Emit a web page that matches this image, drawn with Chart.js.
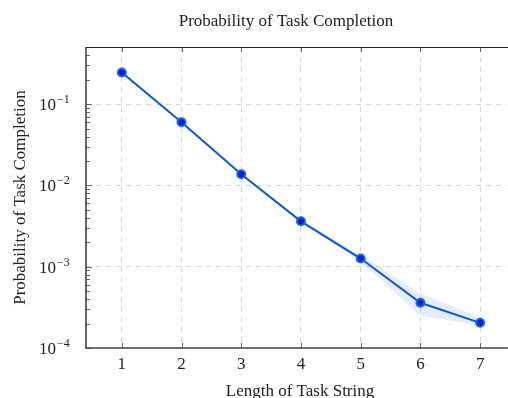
<!DOCTYPE html>
<html>
<head>
<meta charset="utf-8">
<script src="https://cdn.jsdelivr.net/npm/chart.js@4/dist/chart.umd.min.js"></script>
<style>
  html, body { margin: 0; padding: 0; background: #fff; overflow: hidden; }
  #wrap { width: 508px; height: 398px; overflow: hidden; }
</style>
</head>
<body>
<div id="wrap"><canvas id="grafico" width="513" height="398"></canvas></div>
<script>
// dados
const taskLength = [1, 2, 3, 4, 5, 6, 7];
const probability = [0.245, 0.060, 0.0137, 0.00362, 0.00126, 0.00036, 0.000204];
const probUpper = [0.252, 0.0618, 0.0142, 0.00375, 0.00138, 0.00047, 0.000237];
const probLower = [0.238, 0.0583, 0.0133, 0.00350, 0.00115, 0.00025, 0.000189];
const decadeTicks = [1e-4, 1e-3, 1e-2, 1e-1];
const decadeLabels = ['−4', '−3', '−2', '−1'];

const serif = '"Liberation Serif", "Times New Roman", serif';

function toPoints(ys) {
    return taskLength.map((x, i) => ({ x: x, y: ys[i] }));
}

// moldura, ticks menores, rótulos do eixo y e títulos
const decorPlugin = {
    id: 'decor',
    afterDraw(chart) {
        const ctx = chart.ctx;
        const a = chart.chartArea;
        const xs = chart.scales.x;
        const ys = chart.scales.y;
        ctx.save();

        // ticks menores no eixo y
        ctx.strokeStyle = '#666';
        ctx.lineWidth = 1;
        for (let d = -4; d < 0; d++) {
            for (let m = 1; m <= 9; m++) {
                const v = m * Math.pow(10, d);
                if (v > ys.max) continue;
                const py = Math.round(ys.getPixelForValue(v)) + 0.5;
                const len = m === 1 ? 6 : 4;
                ctx.beginPath();
                ctx.moveTo(a.left, py); ctx.lineTo(a.left + len, py);
                ctx.stroke();
            }
        }
        // ticks no eixo x (baixo e cima)
        taskLength.forEach(t => {
            const px = Math.round(xs.getPixelForValue(t)) + 0.5;
            ctx.beginPath();
            ctx.moveTo(px, a.bottom); ctx.lineTo(px, a.bottom - 5);
            ctx.moveTo(px, a.top); ctx.lineTo(px, a.top + 5);
            ctx.stroke();
        });

        // moldura
        ctx.strokeStyle = '#222';
        ctx.lineWidth = 1;
        ctx.beginPath();
        ctx.moveTo(a.left, a.top + 0.5); ctx.lineTo(a.right + 2, a.top + 0.5);
        ctx.stroke();
        ctx.strokeStyle = '#444';
        ctx.lineWidth = 1.6;
        ctx.beginPath();
        ctx.moveTo(a.left, a.top); ctx.lineTo(a.left, a.bottom); ctx.lineTo(a.right + 2, a.bottom);
        ctx.stroke();

        // rótulos do eixo y: 10 com expoente
        ctx.fillStyle = '#222';
        ctx.textBaseline = 'alphabetic';
        decadeTicks.forEach((v, i) => {
            const py = ys.getPixelForValue(v);
            ctx.font = '17px ' + serif;
            ctx.textAlign = 'left';
            ctx.fillText('10', 39, py + 6);
            ctx.font = '12px ' + serif;
            ctx.fillText(decadeLabels[i], 57, py - 1);
        });

        // título
        ctx.font = '17px ' + serif;
        ctx.textAlign = 'center';
        ctx.fillText('Probability of Task Completion', 286, 26);
        // título do eixo x
        ctx.fillText('Length of Task String', 300, 396);
        // título do eixo y
        ctx.translate(25, (a.top + a.bottom) / 2);
        ctx.rotate(-Math.PI / 2);
        ctx.fillText('Probability of Task Completion', 0, 0);
        ctx.restore();
    }
};

const ctxGrafico = document.getElementById('grafico').getContext('2d');
const grafico = new Chart(ctxGrafico, {
    type: 'line',
    data: {
        datasets: [{
            label: 'upper',
            data: toPoints(probUpper),
            borderWidth: 0,
            pointRadius: 0,
            backgroundColor: 'rgba(40, 110, 220, 0.12)',
            fill: '+1'
        }, {
            label: 'lower',
            data: toPoints(probLower),
            borderWidth: 0,
            pointRadius: 0,
            fill: false
        }, {
            label: 'Probability',
            data: toPoints(probability),
            borderColor: '#0a55d6',
            borderWidth: 2,
            pointRadius: 4,
            pointBackgroundColor: '#0020c4',
            pointBorderColor: '#1f62e6',
            pointBorderWidth: 2,
            fill: false,
            tension: 0
        }]
    },
    options: {
        responsive: false,
        animation: false,
        layout: { padding: { top: 47, right: 1, left: 0, bottom: 0 } },
        plugins: {
            legend: { display: false },
            title: { display: false },
            tooltip: { enabled: false }
        },
        scales: {
            x: {
                type: 'linear',
                min: 0.4,
                max: 7.45,
                afterBuildTicks(scale) {
                    scale.ticks = taskLength.map(v => ({ value: v }));
                },
                afterFit(scale) { scale.height = 50; },
                border: { display: false, dash: [5, 5] },
                grid: { color: '#d6d6d6', drawTicks: false, lineWidth: 1 },
                ticks: {
                    color: '#222',
                    padding: 6,
                    font: { family: serif, size: 17 },
                    maxRotation: 0
                }
            },
            y: {
                type: 'logarithmic',
                min: 1e-4,
                max: 0.505,
                afterBuildTicks(scale) {
                    scale.ticks = decadeTicks.map(v => ({ value: v }));
                },
                afterFit(scale) { scale.width = 86; },
                border: { display: false, dash: [5, 5] },
                grid: { color: '#d6d6d6', drawTicks: false, lineWidth: 1 },
                ticks: { display: false }
            }
        }
    },
    plugins: [decorPlugin]
});
</script>
</body>
</html>
